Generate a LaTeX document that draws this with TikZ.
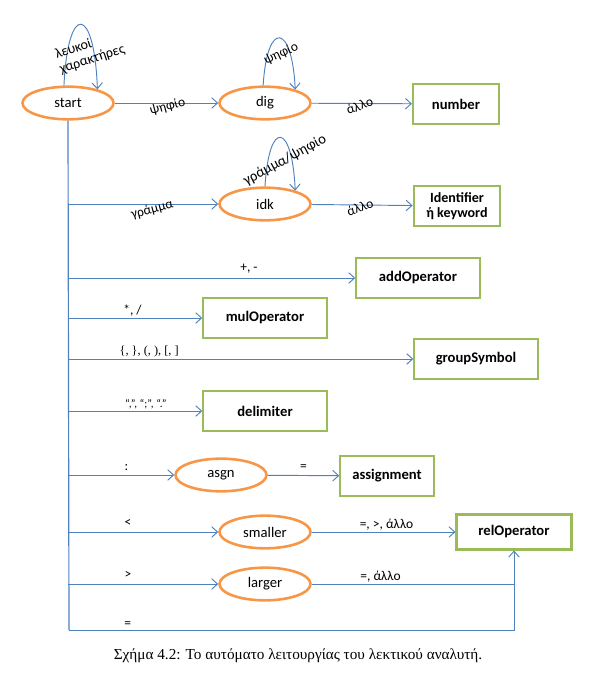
\documentclass[tikz,border=0pt]{standalone}
\usepackage{fontspec}
\setmainfont{Carlito}
\newfontfamily\capfont{Liberation Serif}
\usepackage{tikz}
\usetikzlibrary{arrows.meta, shapes.geometric, calc}

\definecolor{stateorange}{RGB}{247,150,70}
\definecolor{tokengreen}{RGB}{155,187,89}
\definecolor{edgeblue}{RGB}{79,129,189}

\tikzset{
    state/.style={ellipse, draw=stateorange, line width=2.2pt, minimum width=2.73cm, minimum height=0.98cm, inner sep=0pt, font=\fontsize{12.5}{15}\selectfont},
    token/.style={rectangle, draw=tokengreen, line width=1.8pt, minimum width=3.7cm, minimum height=1.18cm, align=center, inner sep=1pt, font=\fontsize{12.5}{14}\selectfont\bfseries},
    wire/.style={draw=edgeblue, line width=0.8pt},
    arr/.style={wire, -{Straight Barb[length=5pt, width=9pt]}},
    lbl/.style={font=\fontsize{11.5}{13}\selectfont, inner sep=1.5pt}
}

\begin{document}
\begin{tikzpicture}[x=0.03cm, y=0.03cm]
        \useasboundingbox (0,0) rectangle (600,-677);

        % states
        \node[state] (start) at (68,-103) {start};
        \node[state] (dig) at (265,-103) {dig};
        \node[state] (idk) at (265,-204) {idk};
        \node[state] (asgn) at (221,-475) {asgn};
        \node[state] (smaller) at (265,-532) {smaller};
        \node[state] (larger) at (265,-584) {larger};

        % tokens
        \node[token, minimum width=2.58cm] (number) at (456,-104) {number};
        \node[token, minimum width=2.6cm, minimum height=1.2cm, font=\fontsize{12}{13}\selectfont\bfseries] (ident) at (457,-206) {Identifier\\ή keyword};
        \node[token] (addop) at (418,-278) {addOperator};
        \node[token] (mulop) at (265,-318) {mulOperator};
        \node[token] (group) at (476,-359) {groupSymbol};
        \node[token] (delim) at (265,-411) {delimiter};
        \node[token, minimum width=2.8cm] (assign) at (387,-476) {assignment};
        \node[token, minimum width=3.45cm, minimum height=1.05cm] (relop) at (514,-532) {relOperator};

        \coordinate (trunkend) at (69,-630);

        % loops
        \draw[arr] (start.103) .. controls ($(start.103)+(4,84)$) and ($(start.25)+(-3,84)$) .. (start.25);
        \node[lbl, rotate=18, align=left, font=\fontsize{12}{13}\selectfont] (wslbl) at (90,-52) {λευκοί\\χαρακτήρες};
        \draw[arr] (dig.96) .. controls ($(dig.96)+(4,66)$) and ($(dig.24)+(-3,66)$) .. (dig.24);
        \node[lbl, rotate=25] (diglbl) at (281,-54) {ψηφίο};
        \draw[arr] (idk.90) .. controls ($(idk.90)+(4,68)$) and ($(idk.24)+(-3,68)$) .. (idk.24);
        \node[lbl, rotate=28, font=\fontsize{12.5}{14}\selectfont] (idklbl) at (285,-160) {γράμμα/ψηφίο};

        % main edges
        \draw[arr] (start) -- (dig) node[lbl, pos=0.5, rotate=15, yshift=-3pt] {ψηφίο};
        \draw[arr] (dig) -- (number) node[lbl, pos=0.47, rotate=20, yshift=-2pt] {άλλο};
        \draw[arr] (idk) -- (ident) node[lbl, pos=0.47, rotate=20, yshift=-2pt] {άλλο};
        \draw[arr] (asgn) -- (assign) node[lbl, pos=0.5, above, yshift=2pt] {=};
        \draw[arr] (smaller) -- (relop) node[lbl, pos=0.52, above] {=, >, άλλο};
        \draw[wire] (larger) -- (larger -| relop.south) node[lbl, pos=0.34, above] {=, άλλο};

        % trunk and branches
        \draw[wire, line width=1pt] (start.south) -- (trunkend);
        \draw[arr] (trunkend) -| (relop.south) node[lbl, pos=0.066, above] {=};
        \draw[arr] (start.south |- idk) -- (idk) node[lbl, pos=0.55, rotate=15, yshift=-5pt] {γράμμα};
        \draw[arr] (start.south |- addop) -- (addop) node[lbl, pos=0.63, above, yshift=2pt] {+, -};
        \draw[arr] (start.south |- mulop) -- (mulop) node[lbl, pos=0.48, above] {*, /};
        \draw[arr] (start.south |- group) -- (group) node[lbl, pos=0.235, above, font=\capfont\fontsize{10.5}{12}\selectfont] {\{, \}, (, ), [, ]};
        \draw[arr] (start.south |- delim) -- (delim) node[lbl, pos=0.58, above, font=\fontsize{9.5}{11}\selectfont] {“,”, “;”, “.”};
        \draw[arr] (start.south |- asgn) -- (asgn) node[lbl, pos=0.55, above, yshift=2pt] {:};
        \draw[arr] (start.south |- smaller) -- (smaller) node[lbl, pos=0.4, above, yshift=3pt] {<};
        \draw[arr] (start.south |- larger) -- (larger) node[lbl, pos=0.4, above, yshift=3pt] {>};

        % caption
        \node[font=\capfont\fontsize{13}{16}\selectfont] (caption) at (298,-656) {Σχήμα 4.2: Το αυτόματο λειτουργίας του λεκτικού αναλυτή.};
\end{tikzpicture}
\end{document}
